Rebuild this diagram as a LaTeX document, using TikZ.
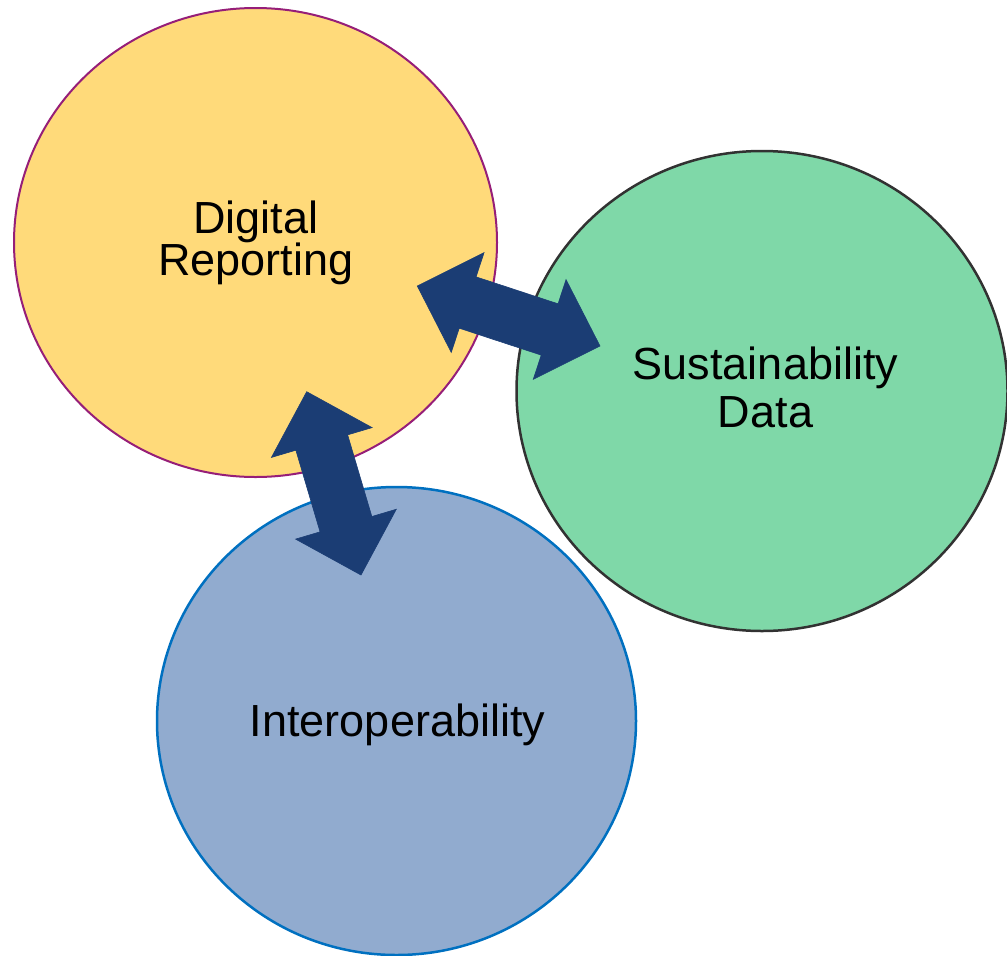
\documentclass[tikz,border=0pt]{standalone}
\usepackage{fontspec}
\setmainfont{Liberation Sans}
\usetikzlibrary{shapes.geometric,calc}
\definecolor{yfill}{RGB}{255,218,122}
\definecolor{ydraw}{RGB}{150,30,120}
\definecolor{gfill}{RGB}{127,216,168}
\definecolor{gdraw}{RGB}{50,50,50}
\definecolor{bfill}{RGB}{145,171,207}
\definecolor{bdraw}{RGB}{0,112,192}
\definecolor{afill}{RGB}{27,61,116}
\tikzset{
  bubble/.style={ellipse, inner sep=0pt, outer sep=0pt},
  lbl/.style={anchor=base, inner sep=0pt, font=\fontsize{45}{50}\selectfont, text=black},
  blockarrow/.style={fill=afill, draw=afill, line width=0.6pt, line join=miter},
}
\newcommand{\dblarrow}[2]{%
  \coordinate (#1h) at ($(#1)!53pt!(#2)$);
  \coordinate (#2h) at ($(#2)!53pt!(#1)$);
  \filldraw[blockarrow] (#1)
    -- ($(#1h)!52.5pt!90:(#2)$) -- ($(#1h)!27pt!90:(#2)$)
    -- ($(#2h)!27pt!-90:(#1)$) -- ($(#2h)!52.5pt!-90:(#1)$)
    -- (#2)
    -- ($(#2h)!52.5pt!90:(#1)$) -- ($(#2h)!27pt!90:(#1)$)
    -- ($(#1h)!27pt!-90:(#2)$) -- ($(#1h)!52.5pt!-90:(#2)$)
    -- cycle;}
\begin{document}
\begin{tikzpicture}[x=1pt,y=-1pt]
\useasboundingbox (0,0) rectangle (1007,956);
\begin{scope}
\clip (0,0) rectangle (1007,956);
\node[bubble, fill=yfill, draw=ydraw, line width=2pt, minimum width=483pt, minimum height=469pt] (dig) at (255.5,242.5) {};
\node[bubble, fill=gfill, draw=gdraw, line width=2.5pt, minimum width=491pt, minimum height=480pt] (sus) at (762,391) {};
\node[bubble, fill=bfill, draw=bdraw, line width=2.5pt, minimum width=479pt, minimum height=468pt] (int) at (396.5,721) {};
\end{scope}
\node[lbl] (dig1) at (256,233.3) {Digital};
\node[lbl] (dig2) at (256,275) {Reporting};
\node[lbl] (sus1) at (765.5,379.3) {Sustainability};
\node[lbl] (sus2) at (765.5,427.3) {Data};
\node[lbl] (int1) at (397.5,736.7) {Interoperability};
\coordinate (a1s) at (417.3,286);
\coordinate (a1e) at (600,346);
\coordinate (a2s) at (306.7,391.7);
\coordinate (a2e) at (361,575);
\dblarrow{a1s}{a1e}
\dblarrow{a2s}{a2e}
\end{tikzpicture}
\end{document}
